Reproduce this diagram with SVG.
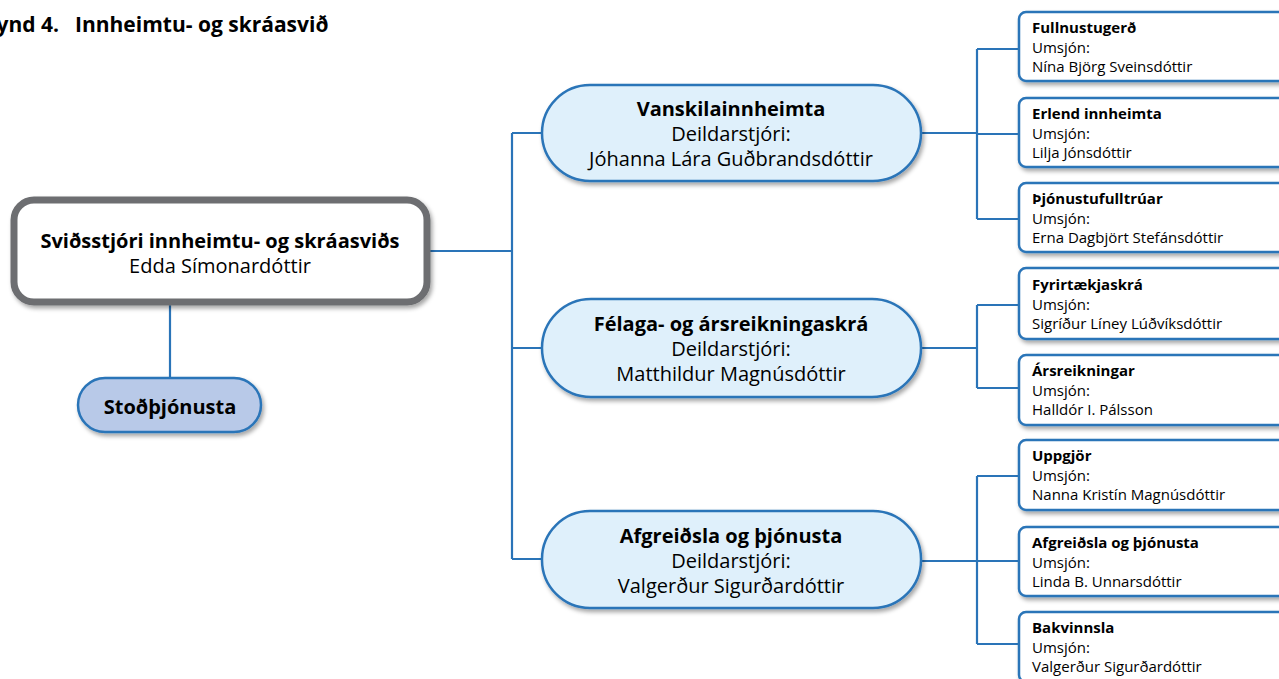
<svg xmlns="http://www.w3.org/2000/svg" width="1279" height="679" viewBox="0 0 1279 679">
  <style>
    text { font-family: "Open Sans", "Noto Sans", "Liberation Sans", sans-serif; fill: #000; }
    .title { font-size: 21px; font-weight: bold; }
    .mid { font-size: 20px; text-anchor: middle; }
    .b { font-weight: bold; }
    .small { font-size: 15px; }
    .link { fill: none; stroke: #2a74b8; stroke-width: 2.2; }
    .pill { fill: #dff0fb; stroke: #2a74b8; stroke-width: 2.5; filter: url(#shadow); }
    .box { fill: #fff; stroke: #2a74b8; stroke-width: 2.5; filter: url(#shadow); }
  </style>
  <defs>
    <filter id="shadow" x="-10%" y="-20%" width="125%" height="150%">
      <feDropShadow dx="2" dy="3" stdDeviation="2" flood-color="#000" flood-opacity="0.35"/>
    </filter>
  </defs>
  <rect width="1279" height="679" fill="#fff"/>

  <!-- heading -->
  <text class="title" x="59" y="32" text-anchor="end">Mynd 4.</text>
  <text class="title" x="75" y="32">Innheimtu- og skráasvið</text>

  <!-- connectors -->
  <g id="connectors">
    <path class="link" d="M430 251 H512 M512 133 V559 M512 133 H542 M512 348 H542 M512 559 H542"/>
    <path class="link" d="M170 305 V378"/>
    <path class="link" d="M921 133 H977 M977 49 V219 M977 49 H1019 M977 134 H1019 M977 219 H1019"/>
    <path class="link" d="M921 348 H977 M977 305 V388 M977 305 H1019 M977 388 H1019"/>
    <path class="link" d="M921 561 H977 M977 476 V644 M977 476 H1019 M977 561 H1019 M977 644 H1019"/>
  </g>

  <!-- head of division -->
  <g id="n-head">
    <rect x="14" y="200" width="413" height="102" rx="20" fill="#fff" stroke="#6d6e71" stroke-width="7" filter="url(#shadow)"/>
    <text class="mid b" x="220" y="248">Sviðsstjóri innheimtu- og skráasviðs</text>
    <text class="mid" x="220" y="273">Edda Símonardóttir</text>
  </g>

  <g id="n-stod">
    <rect x="78" y="378" width="183" height="54" rx="27" fill="#b8c9e8" stroke="#2a74b8" stroke-width="2.5" filter="url(#shadow)"/>
    <text class="mid b" x="170" y="414">Stoðþjónusta</text>
  </g>

  <!-- departments -->
  <g id="n-vanskil">
    <rect class="pill" x="542" y="85" width="379" height="96" rx="48"/>
    <text class="mid b" x="731" y="116">Vanskilainnheimta</text>
    <text class="mid" x="731" y="141">Deildarstjóri:</text>
    <text class="mid" x="731" y="166">Jóhanna Lára Guðbrandsdóttir</text>
  </g>

  <g id="n-felaga">
    <rect class="pill" x="542" y="299" width="379" height="98" rx="49"/>
    <text class="mid b" x="731" y="331">Félaga- og ársreikningaskrá</text>
    <text class="mid" x="731" y="356">Deildarstjóri:</text>
    <text class="mid" x="731" y="381">Matthildur Magnúsdóttir</text>
  </g>

  <g id="n-afgreidsla">
    <rect class="pill" x="542" y="511" width="379" height="97" rx="48"/>
    <text class="mid b" x="731" y="543">Afgreiðsla og þjónusta</text>
    <text class="mid" x="731" y="568">Deildarstjóri:</text>
    <text class="mid" x="731" y="593">Valgerður Sigurðardóttir</text>
  </g>

  <!-- units -->
  <g id="u-fullnusta">
    <rect class="box" x="1019" y="12" width="280" height="69" rx="7"/>
    <text class="small b" x="1032" y="33">Fullnustugerð</text>
    <text class="small" x="1032" y="53">Umsjón:</text>
    <text class="small" x="1032" y="72">Nína Björg Sveinsdóttir</text>
  </g>
  <g id="u-erlend">
    <rect class="box" x="1019" y="98" width="280" height="69" rx="7"/>
    <text class="small b" x="1032" y="119">Erlend innheimta</text>
    <text class="small" x="1032" y="139">Umsjón:</text>
    <text class="small" x="1032" y="158">Lilja Jónsdóttir</text>
  </g>
  <g id="u-thjonustufulltruar">
    <rect class="box" x="1019" y="183" width="280" height="69" rx="7"/>
    <text class="small b" x="1032" y="204">Þjónustufulltrúar</text>
    <text class="small" x="1032" y="224">Umsjón:</text>
    <text class="small" x="1032" y="243">Erna Dagbjört Stefánsdóttir</text>
  </g>

  <g id="u-fyrirtaekjaskra">
    <rect class="box" x="1019" y="268" width="280" height="71" rx="7"/>
    <text class="small b" x="1032" y="290">Fyrirtækjaskrá</text>
    <text class="small" x="1032" y="310">Umsjón:</text>
    <text class="small" x="1032" y="329">Sigríður Líney Lúðvíksdóttir</text>
  </g>
  <g id="u-arsreikningar">
    <rect class="box" x="1019" y="355" width="280" height="70" rx="7"/>
    <text class="small b" x="1032" y="376">Ársreikningar</text>
    <text class="small" x="1032" y="396">Umsjón:</text>
    <text class="small" x="1032" y="415">Halldór I. Pálsson</text>
  </g>

  <g id="u-uppgjor">
    <rect class="box" x="1019" y="440" width="280" height="70" rx="7"/>
    <text class="small b" x="1032" y="461">Uppgjör</text>
    <text class="small" x="1032" y="481">Umsjón:</text>
    <text class="small" x="1032" y="500">Nanna Kristín Magnúsdóttir</text>
  </g>
  <g id="u-afgreidsla">
    <rect class="box" x="1019" y="527" width="280" height="69" rx="7"/>
    <text class="small b" x="1032" y="548">Afgreiðsla og þjónusta</text>
    <text class="small" x="1032" y="568">Umsjón:</text>
    <text class="small" x="1032" y="587">Linda B. Unnarsdóttir</text>
  </g>
  <g id="u-bakvinnsla">
    <rect class="box" x="1019" y="612" width="280" height="70" rx="7"/>
    <text class="small b" x="1032" y="633">Bakvinnsla</text>
    <text class="small" x="1032" y="653">Umsjón:</text>
    <text class="small" x="1032" y="672">Valgerður Sigurðardóttir</text>
  </g>
</svg>
